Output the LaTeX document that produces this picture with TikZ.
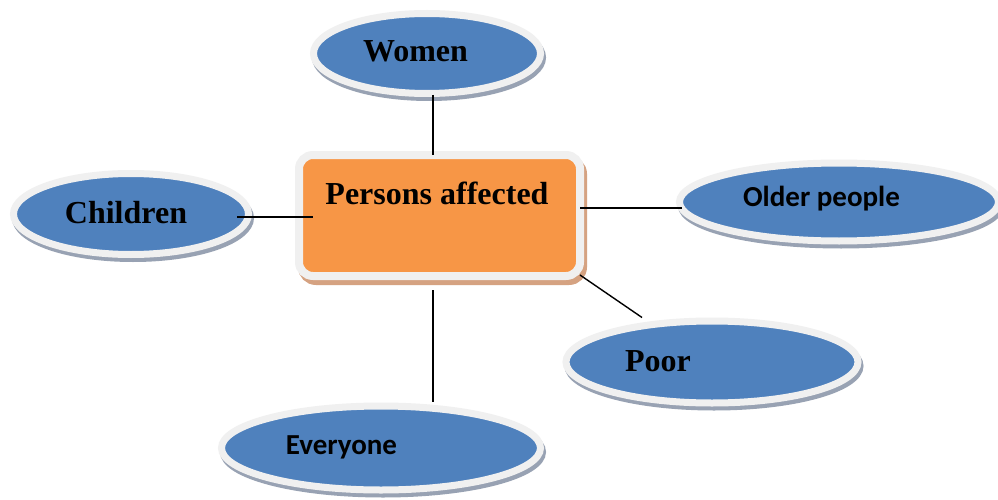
\documentclass[tikz,border=0pt]{standalone}
\usepackage{fontspec}
\newfontfamily\serifb{Liberation Serif}
\newfontfamily\sansb{Carlito}
\usetikzlibrary{shapes.geometric,calc}
\definecolor{blueF}{HTML}{4F81BD}
\definecolor{orangeF}{HTML}{F79646}
\definecolor{rimC}{HTML}{F0F0F0}
\definecolor{shadowB}{HTML}{98A2B3}
\definecolor{shadowO}{HTML}{D5A281}
\begin{document}
\begin{tikzpicture}[x=1pt,y=-1pt,
  oval/.style={ellipse, inner sep=0pt, outer sep=0pt, fill=blueF, draw=rimC, line width=7pt,
    preaction={draw=shadowB, fill=shadowB, line width=7pt, transform canvas={shift={(2pt,-4pt)}}}},
  hub/.style={rectangle, rounded corners=14pt, inner sep=0pt, outer sep=0pt, fill=orangeF, draw=rimC, line width=8pt,
    preaction={draw=shadowO, fill=shadowO, line width=8pt, transform canvas={shift={(3pt,-5pt)}}}},
  serlab/.style={anchor=base, inner sep=0pt, font=\serifb\bfseries\fontsize{32}{32}\selectfont},
  sanslab/.style={anchor=base, inner sep=0pt, font=\sansb\bfseries\fontsize{29}{29}\selectfont},
  conn/.style={draw=black, line width=1.4pt}]
\useasboundingbox[fill=white] (0,0) rectangle (998,500);

\node[hub, minimum width=281pt, minimum height=121pt] (box) at (439.5,215.5) {};
\node[oval, minimum width=227pt, minimum height=80pt] (women) at (427,53.5) {};
\node[oval, minimum width=235pt, minimum height=81pt] (children) at (131,214) {};
\node[oval, minimum width=319pt, minimum height=78pt] (older) at (839,202) {};
\node[oval, minimum width=292pt, minimum height=82pt] (poor) at (712,362) {};
\node[oval, minimum width=319pt, minimum height=84pt] (everyone) at (381,448) {};

\node[serlab] (tbox) at (437,204) {Persons affected};
\node[serlab] (twomen) at (415.5,62) {Women};
\node[serlab] (tchildren) at (126,223) {Children};
\node[sanslab] (tolder) at (821.5,206) {Older people};
\node[serlab] (tpoor) at (658,371) {Poor};
\node[sanslab] (teveryone) at (341.5,454) {Everyone};

\draw[conn] ([xshift=6pt,yshift=-1.5pt]women.south) -- ([xshift=-6.5pt]box.north);
\draw[conn] ([xshift=-11.5pt,yshift=-3pt]children.east) -- ([xshift=14pt,yshift=-1.5pt]box.west);
\draw[conn] ([yshift=7.5pt]box.east) -- ([xshift=2.5pt,yshift=-6pt]older.west);
\draw[conn] ([yshift=1pt]box.south east) -- ([xshift=-70pt,yshift=3.5pt]poor.north);
\draw[conn] ([xshift=-6.5pt,yshift=-14pt]box.south) -- ([xshift=52pt,yshift=4.5pt]everyone.north);
\end{tikzpicture}
\end{document}
